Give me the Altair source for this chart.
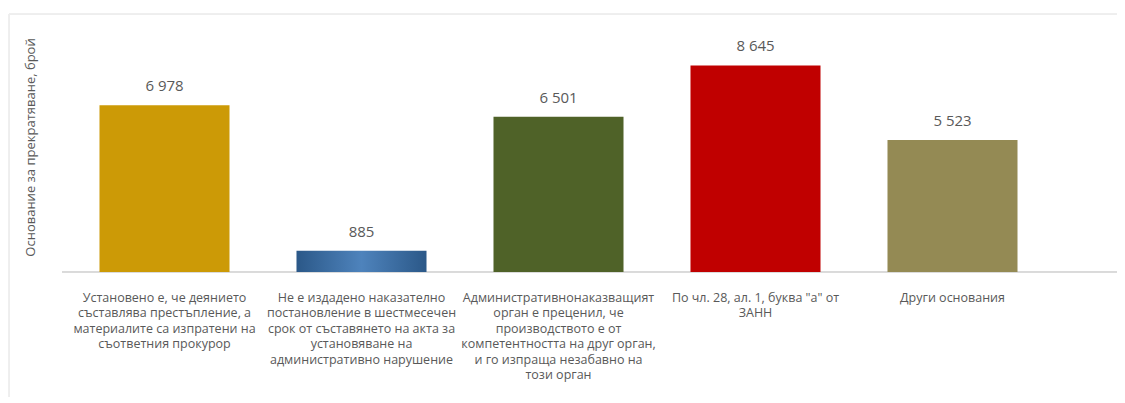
import altair as alt
import pandas as pd

categories = [
    "Установено е, че деянието|съставлява престъпление, а|материалите са изпратени на|съответния прокурор",
    "Не е издадено наказателно|постановление в шестмесечен|срок от съставянето на акта за|установяване на|административно нарушение",
    "Административнонаказващият|орган е преценил, че|производството е от|компетентността на друг орган,|и го изпраща незабавно на|този орган",
    "По чл. 28, ал. 1, буква \"а\" от|ЗАНН",
    "Други основания",
]
values = [6978, 885, 6501, 8645, 5523]
colors = ["#CC9A06", "#3A6CA3", "#4F6228", "#C00000", "#948A54"]
y_title = "Основание за прекратяване, брой"

df = pd.DataFrame({"cat": categories, "v": values, "col": colors})

FONT = "Open Sans"
GRAY = "#595959"
W, H = 985, 239

x_enc = alt.X(
    "cat:N",
    sort=categories,
    title=None,
    scale=alt.Scale(paddingInner=0.34, paddingOuter=0.17),
    axis=alt.Axis(
        labelExpr="split(datum.label, '|')",
        labelAngle=0,
        labelFontSize=12.5,
        labelLineHeight=15.5,
        labelColor=GRAY,
        labelFont=FONT,
        labelPadding=19,
        labelLimit=300,
        ticks=False,
        domain=False,
    ),
)
y_enc = alt.Y(
    "v:Q",
    scale=alt.Scale(domain=[0, 10000]),
    axis=alt.Axis(
        labels=False,
        ticks=False,
        domain=False,
        grid=False,
        title=y_title,
        titleFont=FONT,
        titleFontSize=13,
        titleFontWeight="normal",
        titleColor=GRAY,
        titleAngle=-90,
        titleX=-36,
        titleY=114,
        titleAlign="center",
        titleBaseline="middle",
    ),
)

base = alt.Chart(df)

bars = base.transform_filter("datum.v != 885").mark_bar().encode(
    x=x_enc,
    y=y_enc,
    color=alt.Color("col:N", scale=None, legend=None),
)

blue_grad = alt.LinearGradient(
    gradient="linear",
    x1=0, x2=1, y1=0, y2=0,
    stops=[
        alt.GradientStop(color="#2B5888", offset=0),
        alt.GradientStop(color="#4E83BC", offset=0.5),
        alt.GradientStop(color="#2B5888", offset=1),
    ],
)
bar_blue = base.transform_filter("datum.v == 885").mark_bar(color=blue_grad).encode(
    x=x_enc,
    y=y_enc,
)

labels = base.transform_calculate(
    lbl="replace(format(datum.v, ','), ',', ' ')"
).mark_text(
    dy=-19, fontSize=15, font=FONT, color=GRAY, baseline="middle"
).encode(
    x=alt.X("cat:N", sort=categories),
    y="v:Q",
    text="lbl:N",
)

# baseline (category axis line) extending across the chart area
baseline = alt.Chart(df).mark_rule(color="#D9D9D9", strokeWidth=1).encode(
    x=alt.value(-4), x2=alt.value(1051), y=alt.value(H)
)
# faint outer chart frame
frame_top = alt.Chart(df).mark_rule(color="#EEEEEE", strokeWidth=1).encode(
    x=alt.value(-57), x2=alt.value(1059), y=alt.value(-19)
)
frame_left = alt.Chart(df).mark_rule(color="#EEEEEE", strokeWidth=1).encode(
    x=alt.value(-57), y=alt.value(-19), y2=alt.value(400)
)

chart = (
    alt.layer(frame_top, frame_left, baseline, bars, bar_blue, labels)
    .properties(
        width=W,
        height=H,
        autosize=alt.AutoSizeParams(type="none"),
        padding={"left": 58, "top": 25, "right": 66, "bottom": 125},
        background="white",
    )
    .configure_view(stroke=None)
)

chart.save("out.html", embed_options={"renderer": "svg", "actions": False})
